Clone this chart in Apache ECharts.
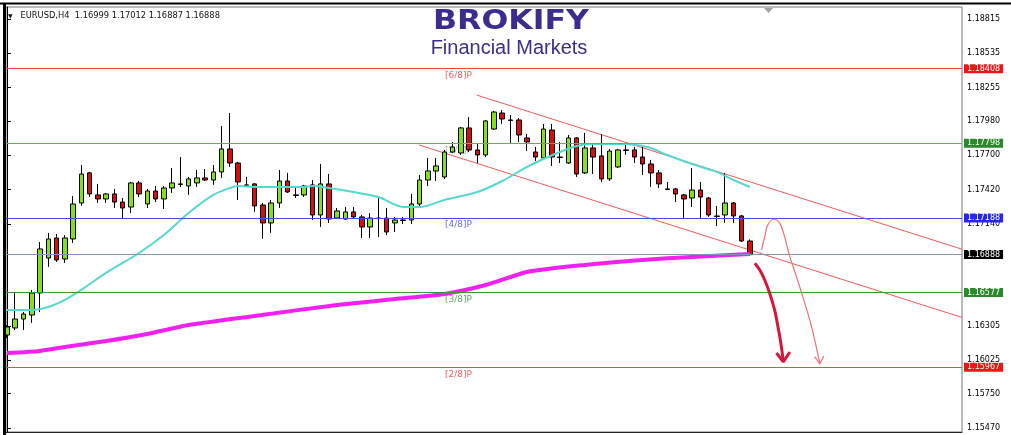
<!DOCTYPE html>
<html><head><meta charset="utf-8">
<script src="https://cdn.jsdelivr.net/npm/echarts@6/dist/echarts.min.js"></script>
<style>html,body{margin:0;padding:0;background:#fff}#c{width:1011px;height:435px}</style>
</head><body><div id="c"></div>
<script>
const opens  = [1.16230,1.16288,1.16361,1.16394,1.16574,1.16860,1.17024,1.16852,1.17016,1.17310,
1.17556,1.17376,1.17343,1.17384,1.17318,1.17277,1.17474,1.17302,1.17408,1.17343,
1.17433,1.17466,1.17449,1.17474,1.17515,1.17498,1.17564,1.17752,1.17637,1.17458,
1.17466,1.17294,1.17147,1.17310,1.17490,1.17376,1.17376,1.17458,1.17212,1.17466,
1.17187,1.17179,1.17237,1.17196,1.17114,1.17187,1.17187,1.17147,1.17171,1.17171,
1.17302,1.17498,1.17572,1.17523,1.17727,1.17719,1.17924,1.17744,1.17703,1.17915,
1.18046,1.17989,1.17989,1.17842,1.17727,1.17678,1.17907,1.17686,1.17637,1.17842,
1.17556,1.17760,1.17695,1.17507,1.17605,1.17744,1.17744,1.17686,1.17629,1.17556,
1.17425,1.17425,1.17376,1.17351,1.17416,1.17351,1.17204,1.17212,1.17310,1.17204,
1.16999];
const closes = [1.16296,1.16361,1.16402,1.16574,1.16934,1.17016,1.16844,1.17024,1.17302,1.17547,
1.17384,1.17343,1.17384,1.17318,1.17269,1.17474,1.17384,1.17408,1.17343,1.17433,
1.17474,1.17462,1.17507,1.17515,1.17498,1.17564,1.17752,1.17637,1.17482,1.17454,
1.17286,1.17147,1.17310,1.17490,1.17400,1.17372,1.17449,1.17212,1.17466,1.17179,
1.17245,1.17237,1.17196,1.17114,1.17187,1.17183,1.17073,1.17171,1.17167,1.17302,
1.17498,1.17572,1.17613,1.17727,1.17768,1.17924,1.17744,1.17703,1.17981,1.18054,
1.17997,1.17985,1.17866,1.17809,1.17686,1.17915,1.17686,1.17682,1.17842,1.17547,
1.17760,1.17686,1.17507,1.17735,1.17744,1.17740,1.17686,1.17629,1.17556,1.17466,
1.17421,1.17384,1.17343,1.17416,1.17359,1.17212,1.17200,1.17310,1.17204,1.16999,
1.16888];
const lows   = [1.16206,1.16271,1.16271,1.16329,1.16419,1.16787,1.16828,1.16820,1.16983,1.17286,
1.17359,1.17310,1.17310,1.17269,1.17187,1.17228,1.17359,1.17269,1.17318,1.17261,
1.17392,1.17441,1.17376,1.17441,1.17490,1.17458,1.17515,1.17605,1.17335,1.17449,
1.17237,1.17016,1.17065,1.17269,1.17392,1.17351,1.17359,1.17171,1.17114,1.17147,
1.17179,1.17171,1.17179,1.17024,1.17024,1.17032,1.17048,1.17073,1.17138,1.17138,
1.17277,1.17449,1.17490,1.17507,1.17719,1.17703,1.17727,1.17637,1.17686,1.17907,
1.17956,1.17793,1.17809,1.17735,1.17654,1.17670,1.17613,1.17637,1.17629,1.17523,
1.17547,1.17547,1.17482,1.17490,1.17596,1.17703,1.17637,1.17539,1.17441,1.17433,
1.17416,1.17318,1.17187,1.17277,1.17187,1.17196,1.17122,1.17147,1.17147,1.16991,
1.16887];
const highs  = [1.16312,1.16574,1.16419,1.16599,1.16991,1.17065,1.17057,1.17048,1.17367,1.17621,
1.17564,1.17466,1.17392,1.17425,1.17351,1.17482,1.17490,1.17425,1.17449,1.17449,
1.17596,1.17686,1.17523,1.17580,1.17588,1.17621,1.17940,1.18046,1.17646,1.17523,
1.17474,1.17310,1.17335,1.17580,1.17556,1.17441,1.17458,1.17498,1.17629,1.17547,
1.17269,1.17277,1.17277,1.17212,1.17228,1.17367,1.17269,1.17196,1.17196,1.17384,
1.17539,1.17678,1.17678,1.17744,1.17809,1.17932,1.18013,1.17801,1.17989,1.18063,
1.18071,1.18030,1.18005,1.17874,1.17768,1.17956,1.17956,1.17809,1.17866,1.17850,
1.17883,1.17785,1.17874,1.17752,1.17752,1.17785,1.17768,1.17768,1.17662,1.17580,
1.17482,1.17433,1.17384,1.17596,1.17482,1.17359,1.17286,1.17556,1.17318,1.17212,
1.17012];

const maCyan = [[0,1.16435],[3,1.16435],[5,1.16459],[7,1.16517],[9,1.16599],[12,1.16738],[16,1.16901],[19,1.17048],[22,1.17228],[25,1.17376],[27,1.17433],[28,1.17449],[30,1.17441],[36,1.17441],[37,1.17449],[39,1.17433],[42,1.17400],[45,1.17359],[48,1.17277],[50,1.17277],[53,1.17335],[57,1.17400],[60,1.17490],[63,1.17605],[65,1.17670],[67,1.17727],[69,1.17776],[71,1.17793],[75,1.17793],[77,1.17776],[78,1.17760],[80,1.17703],[83,1.17629],[86,1.17564],[88,1.17498],[90,1.17441]];
const maPink = [[0,1.16083],[4,1.16100],[7,1.16132],[12,1.16181],[17,1.16239],[22,1.16312],[30,1.16386],[40,1.16476],[47,1.16525],[53,1.16566],[58,1.16639],[63,1.16746],[70,1.16803],[77,1.16844],[83,1.16869],[90,1.16893]];

const upperChannel = [[56.9,1.18193],[115.7,1.16932]];
const lowerChannel = [[49.9,1.17785],[115.7,1.16374]];

const crimsonArrow = [[90.6,1.16817],[91.2,1.16762],[91.8,1.16680],[92.4,1.16572],[93.0,1.16435],[93.4,1.16298],[93.75,1.16165],[94.03,1.16026]];
const crimsonHead = [[93.23,1.16083],[94.05,1.16010],[94.84,1.16091]];
const arcArrow = [[91.41,1.16926],[91.81,1.17035],[92.17,1.17130],[92.9,1.17177],[93.6,1.17147],[94.2,1.17035],[94.84,1.16871],[95.65,1.16707],[96.41,1.16544],[97.26,1.16352],[97.86,1.16189],[98.47,1.15999]];
const arcHead = [[97.86,1.16053],[98.47,1.15993],[98.96,1.16059]];

const levelValues = [1.18408,1.17798,1.17188,1.16888,1.16577,1.15967];
const levelNames  = ['[6/8]P','[5/8]P','[4/8]P','','[3/8]P','[2/8]P'];
const levelLineColors = ['#e84a4a','#72a860','#4a4ae8','#8494b4','#3c963c','#e84a4a'];
const levelBoxColors  = ['#f01414','#2a8a2a','#2626f0','#000000','#2a8a2a','#f01414'];
const levelTextColors = ['#e03c3c','#7f9c74','#4646e0','#000','#3c963c','#e03c3c'];
const levelLabelX = 54.7;

const yTicks = [1.18815,1.18535,1.18255,1.17980,1.17700,1.17420,1.17140,1.16305,1.16025,1.15750,1.15470];
const titleText = 'EURUSD,H4  1.16999 1.17012 1.16887 1.16888';

const candles = opens.map((o,i)=>[i,o,closes[i],lows[i],highs[i]]);

const chart = echarts.init(document.getElementById('c'));
chart.setOption({
  animation:false,
  backgroundColor:'#fff',
  title:{text:'{t|▼}   '+titleText,left:8,top:12,padding:0,
    textStyle:{fontSize:8.3,fontWeight:'normal',fontFamily:'DejaVu Sans',color:'#111',
      rich:{t:{fontSize:6,color:'#111'}}}},
  grid:{left:6,right:49,top:7,bottom:3,show:true,borderColor:'#777',borderWidth:1},
  xAxis:{type:'value',min:-0.12,max:115.7,axisLine:{show:true,onZero:false,lineStyle:{color:'#222'}},
    axisTick:{show:false},axisLabel:{show:false},splitLine:{show:false}},
  yAxis:{type:'value',position:'right',min:1.15437,max:1.18913,scale:true,
    axisLine:{show:true,lineStyle:{color:'#000'}},
    axisTick:{show:true,length:4,customValues:yTicks,lineStyle:{color:'#000'}},
    axisLabel:{customValues:yTicks,formatter:v=>v.toFixed(5),fontSize:8,fontFamily:'DejaVu Sans',color:'#000',margin:5},
    splitLine:{show:false}},
  graphic:[
    {type:'line',shape:{x1:0,y1:3.5,x2:1011,y2:3.5},style:{stroke:'#000',lineWidth:2},z:100},
    {type:'line',shape:{x1:4.5,y1:3,x2:4.5,y2:435},style:{stroke:'#000',lineWidth:3},z:100},
    {type:'polygon',shape:{points:[[764,8],[773,8],[768.5,13]]},style:{fill:'#a0a0a0'},z:100},
    {type:'text',x:433,y:22,scaleX:1.17,originX:0,originY:0,style:{text:'BROKIFY',font:'bold 27px "DejaVu Sans"',fill:'#3b2d8f',verticalAlign:'middle',align:'left'},z:100},
    {type:'text',x:509,y:48,style:{text:'Financial Markets',font:'20px "Liberation Sans"',fill:'#3b2f85',verticalAlign:'middle',align:'center'},z:100}
  ],
  series:[
    {type:'line',name:'levels',data:[],z:1,silent:true,
      markLine:{silent:true,precision:5,symbol:['none','none'],animation:false,
        label:{show:true,position:'end',distance:2,formatter:p=>Number(p.value).toFixed(5),color:'#fff',fontSize:8,fontFamily:'DejaVu Sans',padding:[1,3,0,3]},
        data:levelValues.map((v,i)=>({yAxis:v,lineStyle:{color:levelLineColors[i],width:1,type:'solid'},label:{backgroundColor:levelBoxColors[i]}}))}},
    {type:'scatter',name:'levelLabels',z:1,silent:true,symbolSize:1,itemStyle:{color:'rgba(0,0,0,0)'},
      label:{show:true,position:'bottom',distance:2,formatter:p=>p.name,fontSize:9,fontFamily:'DejaVu Sans'},
      data:levelValues.map((v,i)=>({name:levelNames[i],value:[levelLabelX,v],label:{color:levelTextColors[i]}})).filter(d=>d.name)},
    {type:'line',name:'upper',data:upperChannel,z:2,showSymbol:false,silent:true,lineStyle:{color:'#f05a5a',width:1}},
    {type:'line',name:'lower',data:lowerChannel,z:2,showSymbol:false,silent:true,lineStyle:{color:'#f05a5a',width:1}},
    {type:'candlestick',name:'EURUSD',data:candles,encode:{x:0,y:[1,2,3,4]},z:3,barWidth:5,
      itemStyle:{color:'#84e01c',color0:'#d31010',borderColor:'#000',borderColor0:'#000',borderColorDoji:'#000',borderWidth:1}},
    {type:'line',name:'maCyan',data:maCyan,z:4,showSymbol:false,smooth:0.3,lineStyle:{color:'#55d8cf',width:2}},
    {type:'line',name:'maPink',data:maPink,z:4,showSymbol:false,smooth:0.2,lineStyle:{color:'#f020f0',width:4}},
    {type:'line',name:'crimson',data:crimsonArrow,z:5,showSymbol:false,smooth:0.4,lineStyle:{color:'#d4163c',width:3}},
    {type:'line',name:'crimsonHead',data:crimsonHead,z:5,showSymbol:false,lineStyle:{color:'#d4163c',width:3}},
    {type:'line',name:'arc',data:arcArrow,z:5,showSymbol:false,smooth:0.4,lineStyle:{color:'#f07070',width:1.2}},
    {type:'line',name:'arcHead',data:arcHead,z:5,showSymbol:false,lineStyle:{color:'#f07070',width:1.2}}
  ]
});
</script></body></html>
